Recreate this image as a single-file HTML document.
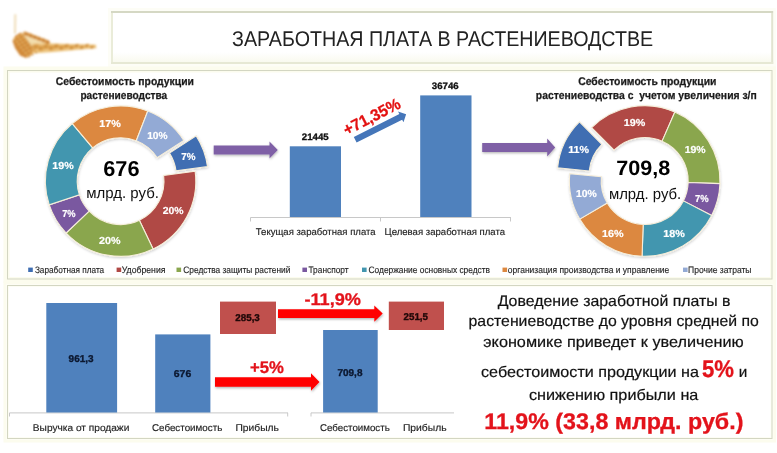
<!DOCTYPE html>
<html><head><meta charset="utf-8"><style>
html,body{margin:0;padding:0;background:#fff;width:777px;height:453px;overflow:hidden}
svg{display:block;will-change:transform}
text{font-family:"Liberation Sans", sans-serif;text-rendering:geometricPrecision}
</style></head><body>
<svg width="777" height="453" viewBox="0 0 777 453">
<defs><linearGradient id="hg" x1="0" y1="0" x2="0" y2="1"><stop offset="0" stop-color="#FFFFFF"/><stop offset="0.78" stop-color="#FFFFFF"/><stop offset="1" stop-color="#F8F9EC"/></linearGradient></defs>
<rect x="108" y="8" width="668" height="59" fill="#FDFDF6"/>
<rect x="111" y="11" width="662.2" height="52.8" fill="url(#hg)"/>
<rect x="111" y="11" width="662.2" height="2" fill="#D5D8C4"/>
<rect x="111" y="13" width="2" height="50.8" fill="#EAECD9"/>
<rect x="771.2" y="13" width="2" height="50.8" fill="#E2E4D0"/>
<rect x="111" y="62" width="662.2" height="2" fill="#E6E8D4"/>
<rect x="3.5" y="66.5" width="772.5" height="216.5" fill="#FCFCEE"/>
<rect x="3.5" y="281.5" width="772.5" height="161" fill="#FCFCEE"/>
<rect x="7.5" y="70.5" width="764.5" height="208.5" fill="#fff" stroke="#FCFCEE" stroke-width="4"/>
<rect x="7.5" y="285.5" width="764.5" height="153" fill="#fff" stroke="#FDFDF4" stroke-width="3"/>
<rect x="7.5" y="70.5" width="764.5" height="208.5" fill="none" stroke="#D3D6C2" stroke-width="1"/>
<rect x="7.5" y="285.5" width="764.5" height="153" fill="none" stroke="#D3D6C2" stroke-width="1"/>
<filter id="ds3" x="-10%" y="-10%" width="120%" height="120%"><feDropShadow dx="0.3" dy="1.2" stdDeviation="1" flood-color="#000" flood-opacity="0.18"/></filter>
<g filter="url(#ds3)">
<path d="M196.20,135.86 A75.2,75.2 0 0 1 207.53,166.65 L176.01,170.85 A43.4,43.4 0 0 0 169.47,153.08 Z" fill="#3F6EB2" stroke="#F6EEDA" stroke-width="1.1"/>
<path d="M195.14,171.20 A75.2,75.2 0 0 1 153.09,248.97 L139.35,220.29 A43.4,43.4 0 0 0 163.62,175.41 Z" fill="#B04844" stroke="#F6EEDA" stroke-width="1.1"/>
<path d="M153.09,248.97 A75.2,75.2 0 0 1 66.14,233.01 L89.17,211.08 A43.4,43.4 0 0 0 139.35,220.29 Z" fill="#8AA64E" stroke="#F6EEDA" stroke-width="1.1"/>
<path d="M66.14,233.01 A75.2,75.2 0 0 1 49.24,204.89 L79.42,194.85 A43.4,43.4 0 0 0 89.17,211.08 Z" fill="#7A59A0" stroke="#F6EEDA" stroke-width="1.1"/>
<path d="M49.24,204.89 A75.2,75.2 0 0 1 72.26,123.54 L92.70,147.90 A43.4,43.4 0 0 0 79.42,194.85 Z" fill="#4396AF" stroke="#F6EEDA" stroke-width="1.1"/>
<path d="M72.26,123.54 A75.2,75.2 0 0 1 147.79,111.04 L136.29,140.69 A43.4,43.4 0 0 0 92.70,147.90 Z" fill="#DC8840" stroke="#F6EEDA" stroke-width="1.1"/>
<path d="M147.79,111.04 A75.2,75.2 0 0 1 183.81,140.41 L157.08,157.64 A43.4,43.4 0 0 0 136.29,140.69 Z" fill="#93AAD5" stroke="#F6EEDA" stroke-width="1.1"/>
<path d="M557.56,167.86 A75.3,75.3 0 0 1 579.45,121.78 L601.85,144.34 A43.5,43.5 0 0 0 589.21,170.96 Z" fill="#3F6EB2" stroke="#F6EEDA" stroke-width="1.1"/>
<path d="M591.64,127.57 A75.3,75.3 0 0 1 674.85,112.00 L662.12,141.14 A43.5,43.5 0 0 0 614.05,150.13 Z" fill="#B04844" stroke="#F6EEDA" stroke-width="1.1"/>
<path d="M674.85,112.00 A75.3,75.3 0 0 1 719.95,183.63 L688.17,182.52 A43.5,43.5 0 0 0 662.12,141.14 Z" fill="#8AA64E" stroke="#F6EEDA" stroke-width="1.1"/>
<path d="M719.95,183.63 A75.3,75.3 0 0 1 711.67,215.42 L683.39,200.88 A43.5,43.5 0 0 0 688.17,182.52 Z" fill="#7A59A0" stroke="#F6EEDA" stroke-width="1.1"/>
<path d="M711.67,215.42 A75.3,75.3 0 0 1 642.07,256.25 L643.18,224.47 A43.5,43.5 0 0 0 683.39,200.88 Z" fill="#4396AF" stroke="#F6EEDA" stroke-width="1.1"/>
<path d="M642.07,256.25 A75.3,75.3 0 0 1 579.75,219.10 L607.18,203.01 A43.5,43.5 0 0 0 643.18,224.47 Z" fill="#DC8840" stroke="#F6EEDA" stroke-width="1.1"/>
<path d="M579.75,219.10 A75.3,75.3 0 0 1 569.76,173.65 L601.41,176.76 A43.5,43.5 0 0 0 607.18,203.01 Z" fill="#93AAD5" stroke="#F6EEDA" stroke-width="1.1"/>
</g>
<rect x="28.2" y="267.6" width="4.6" height="4.4" fill="#3F6EB2"/>
<rect x="116.6" y="267.6" width="4.6" height="4.4" fill="#B04844"/>
<rect x="176.5" y="267.6" width="4.6" height="4.4" fill="#8AA64E"/>
<rect x="302.4" y="267.6" width="4.6" height="4.4" fill="#7A59A0"/>
<rect x="362" y="267.6" width="4.6" height="4.4" fill="#4396AF"/>
<rect x="502.5" y="267.6" width="4.6" height="4.4" fill="#DC8840"/>
<rect x="683" y="267.6" width="4.6" height="4.4" fill="#93AAD5"/>
<path d="M250.5,217.5H511 M250.5,217.5V221.5 M380.5,217.5V221.5 M510.5,217.5V221.5" stroke="#C8C8C8" stroke-width="1" fill="none"/>
<rect x="289.8" y="146.3" width="51.2" height="70.7" fill="#4F81BD"/>
<rect x="420.2" y="95.4" width="51.3" height="121.6" fill="#4F81BD"/>
<filter id="ds2" x="-10%" y="-30%" width="120%" height="180%"><feDropShadow dx="0.5" dy="1.3" stdDeviation="0.9" flood-color="#000" flood-opacity="0.28"/></filter>
<g filter="url(#ds2)"><path d="M213.7,145.55 H269.5 V141.50 L277.8,150 L269.5,158.50 V154.45 H213.7 Z" fill="#7F60A6"/><path d="M482.2,143.00 H547.2 V138.50 L555.2,147.5 L547.2,156.50 V152.00 H482.2 Z" fill="#7F60A6"/></g>
<g transform="translate(355.2,139.8) rotate(-26.7)"><path d="M0,-3.1 H51 V-6.1 L57,0 L51,6.1 V3.1 H0 Z" fill="#4576B9"/></g>
<text transform="translate(374.3,121.6) rotate(-27)" x="0" y="0" font-size="16.3" font-weight="bold" fill="#E31010" stroke="#E31010" stroke-width="0.3" text-anchor="middle" textLength="62" lengthAdjust="spacingAndGlyphs">+71,35%</text>
<path d="M9.5,412.9H288 M9.5,412.9V416.5 M287.7,412.9V416.5 M311,412.9H454 M311,412.9V416.5" stroke="#C8C8C8" stroke-width="1" fill="none"/>
<rect x="46.3" y="303" width="70.8" height="109.5" fill="#4F81BD"/>
<rect x="155.2" y="334.4" width="55.2" height="78.1" fill="#4F81BD"/>
<rect x="220" y="301.6" width="56" height="32.4" fill="#C0504D"/>
<rect x="323.1" y="330" width="54.6" height="82.5" fill="#4F81BD"/>
<rect x="388.8" y="301.6" width="55.2" height="28.4" fill="#C0504D"/>
<filter id="ds" x="-10%" y="-30%" width="120%" height="180%"><feDropShadow dx="0.6" dy="1.4" stdDeviation="0.9" flood-color="#000" flood-opacity="0.3"/></filter>
<g filter="url(#ds)"><path d="M278,309.30 H374.3 V305.50 L382.7,313.6 L374.3,321.70 V317.90 H278 Z" fill="#FF0000"/><path d="M215,377.35 H311 V373.30 L319.5,382 L311,390.70 V386.65 H215 Z" fill="#FF0000"/></g>
<filter id="wb" x="-20%" y="-20%" width="140%" height="140%"><feGaussianBlur stdDeviation="0.8"/></filter><g filter="url(#wb)"><path d="M15.3,15 L15.0,33" stroke="#EFDDB8" stroke-width="2" stroke-linecap="round"/><path d="M19,33 L29,33 L42,39 L52,44 L50,50 L34,53 L26,46 Z" fill="#F3DEAE"/><path d="M32,43.5 C50,43.2 72,43.8 96,44.8 L96.3,48.2 C72,50.5 50,52.2 32,53.5 Z" fill="#EDC47E"/><ellipse cx="36.0" cy="46.7" rx="3.50" ry="2.70" transform="rotate(-18 36.0 46.7)" fill="#DDA04C"/><circle cx="35.4" cy="46.9" r="0.8" fill="#A8682A" opacity="0.8"/><ellipse cx="41.1" cy="48.2" rx="3.39" ry="2.60" transform="rotate(-18 41.1 48.2)" fill="#DDA04C"/><circle cx="40.5" cy="48.4" r="0.8" fill="#A8682A" opacity="0.8"/><ellipse cx="46.2" cy="46.5" rx="3.28" ry="2.50" transform="rotate(-18 46.2 46.5)" fill="#DDA04C"/><circle cx="45.6" cy="46.7" r="0.8" fill="#A8682A" opacity="0.8"/><ellipse cx="51.3" cy="47.9" rx="3.17" ry="2.40" transform="rotate(-18 51.3 47.9)" fill="#DDA04C"/><circle cx="50.7" cy="48.1" r="0.8" fill="#A8682A" opacity="0.8"/><ellipse cx="56.4" cy="46.2" rx="3.06" ry="2.30" transform="rotate(-18 56.4 46.2)" fill="#DDA04C"/><circle cx="55.8" cy="46.4" r="0.8" fill="#A8682A" opacity="0.8"/><ellipse cx="61.5" cy="47.7" rx="2.95" ry="2.20" transform="rotate(-18 61.5 47.7)" fill="#DDA04C"/><circle cx="60.9" cy="47.9" r="0.8" fill="#A8682A" opacity="0.8"/><ellipse cx="66.6" cy="46.0" rx="2.84" ry="2.10" transform="rotate(-18 66.6 46.0)" fill="#DDA04C"/><circle cx="66.0" cy="46.2" r="0.8" fill="#A8682A" opacity="0.8"/><ellipse cx="71.7" cy="47.5" rx="2.73" ry="2.00" transform="rotate(-18 71.7 47.5)" fill="#DDA04C"/><circle cx="71.1" cy="47.7" r="0.8" fill="#A8682A" opacity="0.8"/><ellipse cx="76.8" cy="45.7" rx="2.62" ry="1.90" transform="rotate(-18 76.8 45.7)" fill="#DDA04C"/><circle cx="76.2" cy="45.9" r="0.8" fill="#A8682A" opacity="0.8"/><ellipse cx="81.9" cy="47.2" rx="2.51" ry="1.80" transform="rotate(-18 81.9 47.2)" fill="#DDA04C"/><circle cx="81.3" cy="47.4" r="0.8" fill="#A8682A" opacity="0.8"/><ellipse cx="87.0" cy="45.5" rx="2.40" ry="1.70" transform="rotate(-18 87.0 45.5)" fill="#DDA04C"/><circle cx="86.4" cy="45.7" r="0.8" fill="#A8682A" opacity="0.8"/><ellipse cx="92.1" cy="47.0" rx="2.29" ry="1.60" transform="rotate(-18 92.1 47.0)" fill="#DDA04C"/><circle cx="91.5" cy="47.2" r="0.8" fill="#A8682A" opacity="0.8"/><path d="M12.5,41 L15.5,35.5 L21,32.5 L27,39.5 L33,49.5 L31.5,55 L26,58 L20,55.5 L15,48 Z" fill="#D18A3A"/><ellipse cx="15.0" cy="39.0" rx="1.7" ry="1.2" transform="rotate(40 15.0 39.0)" fill="#EDB560"/><circle cx="15.9" cy="39.8" r="0.65" fill="#84440F"/><ellipse cx="18.6" cy="37.0" rx="1.7" ry="1.2" transform="rotate(40 18.6 37.0)" fill="#EDB560"/><circle cx="19.5" cy="37.8" r="0.65" fill="#84440F"/><ellipse cx="22.2" cy="35.0" rx="1.7" ry="1.2" transform="rotate(40 22.2 35.0)" fill="#EDB560"/><circle cx="23.1" cy="35.8" r="0.65" fill="#84440F"/><ellipse cx="17.2" cy="41.8" rx="1.7" ry="1.2" transform="rotate(40 17.2 41.8)" fill="#EDB560"/><circle cx="18.1" cy="42.6" r="0.65" fill="#84440F"/><ellipse cx="20.8" cy="39.8" rx="1.7" ry="1.2" transform="rotate(40 20.8 39.8)" fill="#EDB560"/><circle cx="21.7" cy="40.6" r="0.65" fill="#84440F"/><ellipse cx="24.4" cy="37.8" rx="1.7" ry="1.2" transform="rotate(40 24.4 37.8)" fill="#EDB560"/><circle cx="25.3" cy="38.6" r="0.65" fill="#84440F"/><ellipse cx="19.4" cy="44.6" rx="1.7" ry="1.2" transform="rotate(40 19.4 44.6)" fill="#EDB560"/><circle cx="20.3" cy="45.4" r="0.65" fill="#84440F"/><ellipse cx="23.0" cy="42.6" rx="1.7" ry="1.2" transform="rotate(40 23.0 42.6)" fill="#EDB560"/><circle cx="23.9" cy="43.4" r="0.65" fill="#84440F"/><ellipse cx="26.6" cy="40.6" rx="1.7" ry="1.2" transform="rotate(40 26.6 40.6)" fill="#EDB560"/><circle cx="27.5" cy="41.4" r="0.65" fill="#84440F"/><ellipse cx="21.6" cy="47.4" rx="1.7" ry="1.2" transform="rotate(40 21.6 47.4)" fill="#EDB560"/><circle cx="22.5" cy="48.2" r="0.65" fill="#84440F"/><ellipse cx="25.2" cy="45.4" rx="1.7" ry="1.2" transform="rotate(40 25.2 45.4)" fill="#EDB560"/><circle cx="26.1" cy="46.2" r="0.65" fill="#84440F"/><ellipse cx="28.8" cy="43.4" rx="1.7" ry="1.2" transform="rotate(40 28.8 43.4)" fill="#EDB560"/><circle cx="29.7" cy="44.2" r="0.65" fill="#84440F"/><ellipse cx="23.8" cy="50.2" rx="1.7" ry="1.2" transform="rotate(40 23.8 50.2)" fill="#EDB560"/><circle cx="24.7" cy="51.0" r="0.65" fill="#84440F"/><ellipse cx="27.4" cy="48.2" rx="1.7" ry="1.2" transform="rotate(40 27.4 48.2)" fill="#EDB560"/><circle cx="28.3" cy="49.0" r="0.65" fill="#84440F"/><ellipse cx="31.0" cy="46.2" rx="1.7" ry="1.2" transform="rotate(40 31.0 46.2)" fill="#EDB560"/><circle cx="31.9" cy="47.0" r="0.65" fill="#84440F"/><ellipse cx="26.0" cy="53.0" rx="1.7" ry="1.2" transform="rotate(40 26.0 53.0)" fill="#EDB560"/><circle cx="26.9" cy="53.8" r="0.65" fill="#84440F"/><ellipse cx="29.6" cy="51.0" rx="1.7" ry="1.2" transform="rotate(40 29.6 51.0)" fill="#EDB560"/><circle cx="30.5" cy="51.8" r="0.65" fill="#84440F"/><ellipse cx="33.2" cy="49.0" rx="1.7" ry="1.2" transform="rotate(40 33.2 49.0)" fill="#EDB560"/><circle cx="34.1" cy="49.8" r="0.65" fill="#84440F"/><ellipse cx="28.2" cy="55.8" rx="1.7" ry="1.2" transform="rotate(40 28.2 55.8)" fill="#EDB560"/><circle cx="29.1" cy="56.6" r="0.65" fill="#84440F"/><ellipse cx="31.8" cy="53.8" rx="1.7" ry="1.2" transform="rotate(40 31.8 53.8)" fill="#EDB560"/><circle cx="32.7" cy="54.6" r="0.65" fill="#84440F"/><ellipse cx="35.4" cy="51.8" rx="1.7" ry="1.2" transform="rotate(40 35.4 51.8)" fill="#EDB560"/><circle cx="36.3" cy="52.6" r="0.65" fill="#84440F"/><ellipse cx="26.0" cy="33.8" rx="3.0" ry="2.0" transform="rotate(22 26.0 33.8)" fill="#D89445"/><circle cx="26.8" cy="34.2" r="0.8" fill="#9A5518"/><ellipse cx="30.2" cy="35.4" rx="3.0" ry="2.0" transform="rotate(22 30.2 35.4)" fill="#D89445"/><circle cx="31.0" cy="35.8" r="0.8" fill="#9A5518"/><ellipse cx="34.4" cy="37.0" rx="3.0" ry="2.0" transform="rotate(22 34.4 37.0)" fill="#D89445"/><circle cx="35.2" cy="37.4" r="0.8" fill="#9A5518"/><ellipse cx="38.6" cy="38.6" rx="3.0" ry="2.0" transform="rotate(22 38.6 38.6)" fill="#D89445"/><circle cx="39.4" cy="39.0" r="0.8" fill="#9A5518"/><ellipse cx="42.8" cy="40.2" rx="3.0" ry="2.0" transform="rotate(22 42.8 40.2)" fill="#D89445"/><circle cx="43.6" cy="40.6" r="0.8" fill="#9A5518"/><ellipse cx="47.0" cy="41.8" rx="3.0" ry="2.0" transform="rotate(22 47.0 41.8)" fill="#D89445"/><circle cx="47.8" cy="42.2" r="0.8" fill="#9A5518"/></g>
<text x="232.08" y="46.2" font-size="21.3" fill="#222222" textLength="421.08" lengthAdjust="spacingAndGlyphs">ЗАРАБОТНАЯ ПЛАТА В РАСТЕНИЕВОДСТВЕ</text>
<text x="55.80" y="84.8" font-size="11.2" font-weight="bold" fill="#1a1a1a" textLength="138.11" lengthAdjust="spacingAndGlyphs" stroke="#1a1a1a" stroke-width="0.25">Себестоимость продукции</text>
<text x="80.39" y="99" font-size="11.2" font-weight="bold" fill="#1a1a1a" textLength="86.88" lengthAdjust="spacingAndGlyphs" stroke="#1a1a1a" stroke-width="0.25">растениеводства</text>
<text x="103.29" y="176.4" font-size="21.6" font-weight="bold" fill="#000" textLength="36.24" lengthAdjust="spacingAndGlyphs">676</text>
<text x="86.22" y="198.4" font-size="15.3" fill="#111" textLength="72.76" lengthAdjust="spacingAndGlyphs">млрд. руб.</text>
<text x="578.20" y="85" font-size="11.2" font-weight="bold" fill="#1a1a1a" textLength="138.21" lengthAdjust="spacingAndGlyphs" stroke="#1a1a1a" stroke-width="0.25">Себестоимость продукции</text>
<text x="535.87" y="99.2" font-size="11.2" font-weight="bold" fill="#1a1a1a" textLength="220.89" lengthAdjust="spacingAndGlyphs" stroke="#1a1a1a" stroke-width="0.25">растениеводства с&#160;&#160;учетом увеличения з/п</text>
<text x="616.27" y="174.9" font-size="20.9" font-weight="bold" fill="#000" textLength="54.02" lengthAdjust="spacingAndGlyphs">709,8</text>
<text x="608.92" y="199.1" font-size="15.3" fill="#111" textLength="72.35" lengthAdjust="spacingAndGlyphs">млрд. руб.</text>
<text x="34.92" y="272.6" font-size="9.3" fill="#262626" textLength="69.30" lengthAdjust="spacingAndGlyphs" stroke="#262626" stroke-width="0.15">Заработная плата</text>
<text x="121.77" y="272.6" font-size="9.3" fill="#262626" textLength="43.69" lengthAdjust="spacingAndGlyphs" stroke="#262626" stroke-width="0.15">Удобрения</text>
<text x="183.30" y="272.6" font-size="9.3" fill="#262626" textLength="107.06" lengthAdjust="spacingAndGlyphs" stroke="#262626" stroke-width="0.15">Средства защиты растений</text>
<text x="308.50" y="272.6" font-size="9.3" fill="#262626" textLength="40.04" lengthAdjust="spacingAndGlyphs" stroke="#262626" stroke-width="0.15">Транспорт</text>
<text x="368.50" y="272.6" font-size="9.3" fill="#262626" textLength="121.58" lengthAdjust="spacingAndGlyphs" stroke="#262626" stroke-width="0.15">Содержание основных средств</text>
<text x="507.80" y="272.6" font-size="9.3" fill="#262626" textLength="161.50" lengthAdjust="spacingAndGlyphs" stroke="#262626" stroke-width="0.15">организация производства и управление</text>
<text x="688.08" y="272.6" font-size="9.3" fill="#262626" textLength="63.39" lengthAdjust="spacingAndGlyphs" stroke="#262626" stroke-width="0.15">Прочие затраты</text>
<text x="301.80" y="139.9" font-size="9.3" font-weight="bold" fill="#111" textLength="26.95" lengthAdjust="spacingAndGlyphs" stroke="#111" stroke-width="0.3">21445</text>
<text x="431.80" y="88.9" font-size="9.3" font-weight="bold" fill="#111" textLength="26.95" lengthAdjust="spacingAndGlyphs" stroke="#111" stroke-width="0.3">36746</text>
<text x="255.80" y="234.5" font-size="9.7" fill="#222222" textLength="119.78" lengthAdjust="spacingAndGlyphs" stroke="#222222" stroke-width="0.15">Текущая заработная плата</text>
<text x="384.61" y="234.5" font-size="9.7" fill="#222222" textLength="120.46" lengthAdjust="spacingAndGlyphs" stroke="#222222" stroke-width="0.15">Целевая заработная плата</text>
<text x="68.60" y="361.9" font-size="9.9" font-weight="bold" fill="#0c1830" textLength="24.92" lengthAdjust="spacingAndGlyphs" stroke="#0c1830" stroke-width="0.35">961,3</text>
<text x="173.80" y="376.8" font-size="9.9" font-weight="bold" fill="#0c1830" textLength="17.41" lengthAdjust="spacingAndGlyphs" stroke="#0c1830" stroke-width="0.35">676</text>
<text x="235.30" y="321.4" font-size="9.9" font-weight="bold" fill="#200808" textLength="24.52" lengthAdjust="spacingAndGlyphs" stroke="#200808" stroke-width="0.35">285,3</text>
<text x="337.50" y="375.5" font-size="9.9" font-weight="bold" fill="#0c1830" textLength="24.92" lengthAdjust="spacingAndGlyphs" stroke="#0c1830" stroke-width="0.35">709,8</text>
<text x="403.60" y="319.5" font-size="9.9" font-weight="bold" fill="#200808" textLength="24.42" lengthAdjust="spacingAndGlyphs" stroke="#200808" stroke-width="0.35">251,5</text>
<text x="32.87" y="430.5" font-size="9.8" fill="#222222" textLength="96.46" lengthAdjust="spacingAndGlyphs" stroke="#222222" stroke-width="0.15">Выручка от продажи</text>
<text x="152.00" y="430.5" font-size="9.8" fill="#222222" textLength="70.23" lengthAdjust="spacingAndGlyphs" stroke="#222222" stroke-width="0.15">Себестоимость</text>
<text x="235.45" y="430.5" font-size="9.8" fill="#222222" textLength="43.41" lengthAdjust="spacingAndGlyphs" stroke="#222222" stroke-width="0.15">Прибыль</text>
<text x="320.00" y="430.5" font-size="9.8" fill="#222222" textLength="69.73" lengthAdjust="spacingAndGlyphs" stroke="#222222" stroke-width="0.15">Себестоимость</text>
<text x="402.95" y="430.5" font-size="9.8" fill="#222222" textLength="43.61" lengthAdjust="spacingAndGlyphs" stroke="#222222" stroke-width="0.15">Прибыль</text>
<text x="304.43" y="304.8" font-size="16.9" font-weight="bold" fill="#E3131B" textLength="56.51" lengthAdjust="spacingAndGlyphs" stroke="#E3131B" stroke-width="0.3">-11,9%</text>
<text x="250.01" y="372.6" font-size="16.9" font-weight="bold" fill="#E3131B" textLength="33.87" lengthAdjust="spacingAndGlyphs" stroke="#E3131B" stroke-width="0.3">+5%</text>
<text x="497.70" y="306" font-size="15.3" fill="#111111" textLength="232.86" lengthAdjust="spacingAndGlyphs" stroke="#111111" stroke-width="0.2">Доведение заработной платы в</text>
<text x="468.57" y="326.2" font-size="15.3" fill="#111111" textLength="290.33" lengthAdjust="spacingAndGlyphs" stroke="#111111" stroke-width="0.2">растениеводстве до уровня средней по</text>
<text x="483.34" y="347.1" font-size="15.3" fill="#111111" textLength="260.31" lengthAdjust="spacingAndGlyphs" stroke="#111111" stroke-width="0.2">экономике приведет к увеличению</text>
<text x="481.04" y="377" font-size="15.3" fill="#111111" textLength="217.85" lengthAdjust="spacingAndGlyphs" stroke="#111111" stroke-width="0.2">себестоимости продукции на</text>
<text x="701.98" y="377.1" font-size="24" font-weight="bold" fill="#E3131B" textLength="32.06" lengthAdjust="spacingAndGlyphs" stroke="#E3131B" stroke-width="0.3">5%</text>
<text x="738.70" y="377" font-size="15.3" fill="#111111" textLength="8.55" lengthAdjust="spacingAndGlyphs" stroke="#111111" stroke-width="0.2">и</text>
<text x="528.94" y="399.8" font-size="15.3" fill="#111111" textLength="169.43" lengthAdjust="spacingAndGlyphs" stroke="#111111" stroke-width="0.2">снижению прибыли на</text>
<text x="484.27" y="428.7" font-size="22.6" font-weight="bold" fill="#E3131B" textLength="259.16" lengthAdjust="spacingAndGlyphs" stroke="#E3131B" stroke-width="0.3">11,9% (33,8 млрд. руб.)</text>
<text x="99.24" y="126.5" font-size="10.2" font-weight="bold" fill="#FFFFFF" textLength="21.57" lengthAdjust="spacingAndGlyphs" stroke="#FFFFFF" stroke-width="0.2">17%</text>
<text x="147.20" y="138.6" font-size="10.2" font-weight="bold" fill="#FFFFFF" textLength="20.39" lengthAdjust="spacingAndGlyphs" stroke="#FFFFFF" stroke-width="0.2">10%</text>
<text x="181.20" y="159.7" font-size="10.2" font-weight="bold" fill="#FFFFFF" textLength="14.24" lengthAdjust="spacingAndGlyphs" stroke="#FFFFFF" stroke-width="0.2">7%</text>
<text x="52.35" y="169.4" font-size="10.2" font-weight="bold" fill="#FFFFFF" textLength="21.36" lengthAdjust="spacingAndGlyphs" stroke="#FFFFFF" stroke-width="0.2">19%</text>
<text x="62.20" y="217" font-size="10.2" font-weight="bold" fill="#FFFFFF" textLength="13.46" lengthAdjust="spacingAndGlyphs" stroke="#FFFFFF" stroke-width="0.2">7%</text>
<text x="99.10" y="243.9" font-size="10.2" font-weight="bold" fill="#FFFFFF" textLength="21.41" lengthAdjust="spacingAndGlyphs" stroke="#FFFFFF" stroke-width="0.2">20%</text>
<text x="162.70" y="214.1" font-size="10.2" font-weight="bold" fill="#FFFFFF" textLength="20.80" lengthAdjust="spacingAndGlyphs" stroke="#FFFFFF" stroke-width="0.2">20%</text>
<text x="623.85" y="126.1" font-size="10.2" font-weight="bold" fill="#FFFFFF" textLength="21.46" lengthAdjust="spacingAndGlyphs" stroke="#FFFFFF" stroke-width="0.2">19%</text>
<text x="684.67" y="153.2" font-size="10.2" font-weight="bold" fill="#FFFFFF" textLength="20.93" lengthAdjust="spacingAndGlyphs" stroke="#FFFFFF" stroke-width="0.2">19%</text>
<text x="568.25" y="153.2" font-size="10.2" font-weight="bold" fill="#FFFFFF" textLength="20.87" lengthAdjust="spacingAndGlyphs" stroke="#FFFFFF" stroke-width="0.2">11%</text>
<text x="575.98" y="197.4" font-size="10.2" font-weight="bold" fill="#FFFFFF" textLength="20.82" lengthAdjust="spacingAndGlyphs" stroke="#FFFFFF" stroke-width="0.2">10%</text>
<text x="695.00" y="201.7" font-size="10.2" font-weight="bold" fill="#FFFFFF" textLength="13.65" lengthAdjust="spacingAndGlyphs" stroke="#FFFFFF" stroke-width="0.2">7%</text>
<text x="602.14" y="236.6" font-size="10.2" font-weight="bold" fill="#FFFFFF" textLength="21.57" lengthAdjust="spacingAndGlyphs" stroke="#FFFFFF" stroke-width="0.2">16%</text>
<text x="663.34" y="236.6" font-size="10.2" font-weight="bold" fill="#FFFFFF" textLength="21.57" lengthAdjust="spacingAndGlyphs" stroke="#FFFFFF" stroke-width="0.2">18%</text>
</svg>
</body></html>
